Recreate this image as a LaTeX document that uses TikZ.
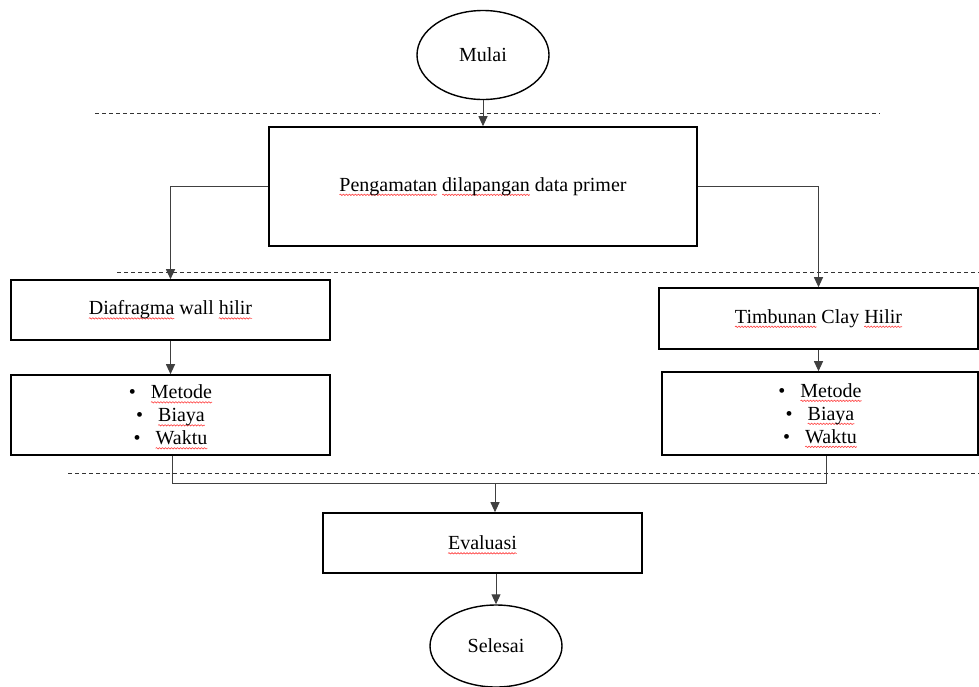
\documentclass[tikz,border=0pt]{standalone}
\usepackage{fontspec}
\setmainfont{Liberation Serif}
\usetikzlibrary{arrows.meta,shapes.geometric,decorations.pathmorphing}
\newsavebox\sqbox
\newcommand\sq[1]{\sbox\sqbox{#1}\rlap{\tikz[overlay,baseline=0pt]\draw[red!75,line width=0.6pt,solid,decorate,decoration={snake,amplitude=0.7pt,segment length=3pt}] (0pt,-3.5pt) -- (\wd\sqbox,-3.5pt);}\usebox\sqbox}
\begin{document}
\begin{tikzpicture}[x=1pt,y=-1pt,
  txt/.style={font=\fontsize{20}{23}\selectfont,text=black},
  box/.style={txt,draw=black,line width=1.6pt,rectangle,inner sep=0pt,align=center},
  oval/.style={txt,draw=black,line width=1.4pt,ellipse,inner sep=0pt},
  conn/.style={draw=black!75,line width=1pt},
  arr/.style={conn,-{Triangle[length=10pt,width=9pt]}},
  sepline/.style={draw=black!80,line width=0.8pt,dash pattern=on 4pt off 3pt}]
\useasboundingbox (0,0) rectangle (979,686);

% separators
\draw[sepline] (95,113) -- (880,113);
\draw[sepline] (117,272) -- (979,272);
\draw[sepline] (68,473) -- (979,473);

% nodes
\node[oval,minimum width=132pt,minimum height=89pt] (mulai) at (483,55) {Mulai};
\node[box,minimum width=428pt,minimum height=119pt] (peng) at (483,186.5) {\sq{Pengamatan} \sq{dilapangan} data primer};
\node[box,minimum width=319pt,minimum height=60pt] (diaf) at (170.5,310) {\sq{Diafragma} wall \sq{hilir}};
\node[box,minimum width=319pt,minimum height=80pt] (listl) at (170.5,415) {\textbullet\hspace{15pt}\sq{Metode}\\ \textbullet\hspace{15pt}\sq{Biaya}\\ \textbullet\hspace{15pt}\sq{Waktu}};
\node[box,minimum width=319pt,minimum height=61pt] (timb) at (818.5,318.5) {\sq{Timbunan} Clay \sq{Hilir}};
\node[box,minimum width=316pt,minimum height=83pt] (listr) at (820,413.5) {\textbullet\hspace{15pt}\sq{Metode}\\ \textbullet\hspace{15pt}\sq{Biaya}\\ \textbullet\hspace{15pt}\sq{Waktu}};
\node[box,minimum width=319pt,minimum height=60pt] (evalb) at (482.5,543) {\sq{Evaluasi}};
\node[oval,minimum width=132pt,minimum height=82pt] (sel) at (496,646) {Selesai};

% junction coordinates
\coordinate (jl) at (172,483);
\coordinate (jr) at (826,483);
\coordinate (jc) at (495,483);

% connectors
\draw[arr] (mulai) -- (peng);
\draw[arr] (peng.west) -| (diaf.north);
\draw[arr] (peng.east) -| (timb.north);
\draw[arr] (diaf) -- (listl);
\draw[arr] (timb.south) -- (timb.south |- listr.north);
\draw[conn] (jl |- listl.south) -- (jl) -- (jr) -- (jr |- listr.south);
\draw[arr] (jc) -- (jc |- evalb.north);
\draw[arr] (evalb.south -| sel.north) -- (sel.north);
\end{tikzpicture}
\end{document}
